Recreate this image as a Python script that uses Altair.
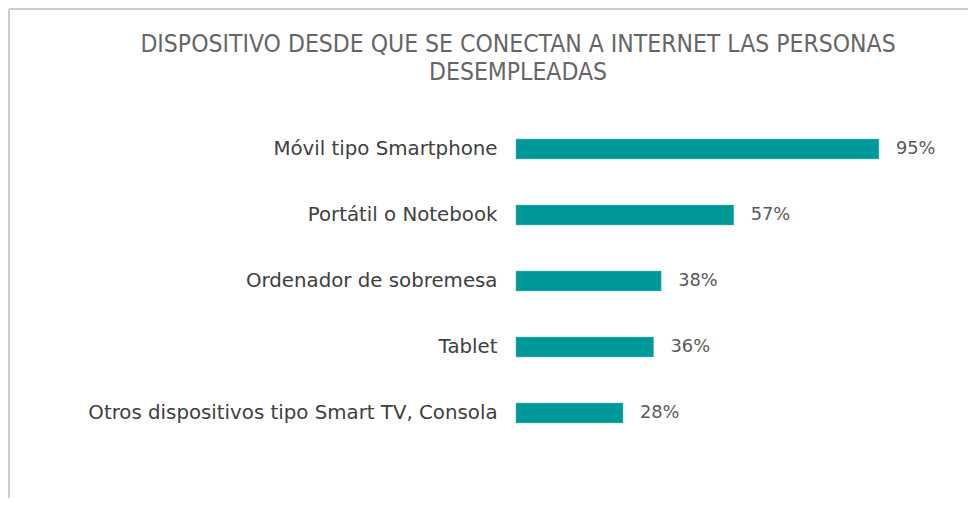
import altair as alt
import pandas as pd

categories = [
    "Móvil tipo Smartphone",
    "Portátil o Notebook",
    "Ordenador de sobremesa",
    "Tablet",
    "Otros dispositivos tipo Smart TV, Consola",
]
values = [95, 57, 38, 36, 28]
value_labels = ["95%", "57%", "38%", "36%", "28%"]

df = pd.DataFrame({"cat": categories, "val": values, "lab": value_labels})

FONT = "DejaVu Sans"

y_enc = alt.Y("cat:N", sort=categories, title=None,
              scale=alt.Scale(paddingInner=0.7, paddingOuter=0.35),
              axis=alt.Axis(domain=False, ticks=False, labelPadding=19,
                            labelFontSize=19.8, labelColor="#404040", labelFont=FONT,
                            labelLimit=600))
x_enc = alt.X("val:Q", scale=alt.Scale(domain=[0, 100]), axis=None, title=None)

bars = alt.Chart(df).mark_bar(color="#009999", stroke="#5fb5b5", strokeWidth=0.5).encode(
    x=x_enc, y=y_enc)

text = alt.Chart(df).mark_text(align="left", dx=17, fontSize=17.8, color="#595959",
                               font=FONT, baseline="middle").encode(
    x="val:Q", y=alt.Y("cat:N", sort=categories), text="lab:N")

frame_top = alt.Chart(df).mark_rule(color="#c9ccd3", strokeWidth=1.5).encode(
    x=alt.value(-507), x2=alt.value(500), y=alt.value(-107))
frame_left = alt.Chart(df).mark_rule(color="#c9ccd3", strokeWidth=1.5).encode(
    x=alt.value(-507), y=alt.value(-107), y2=alt.value(500))

chart = alt.layer(frame_top, frame_left, bars, text).properties(
    width=382, height=330,
    autosize=alt.AutoSizeParams(type="none"),
    padding={"left": 508, "top": 108, "right": 70, "bottom": 52},
    title=alt.TitleParams(
        text=["DISPOSITIVO DESDE QUE SE CONECTAN A INTERNET LAS PERSONAS", "DESEMPLEADAS"],
        anchor="middle", dx=-189, dy=77, fontSize=24.5, font="DejaVu Sans Condensed",
        fontWeight=300, color="#666666", lineHeight=28, offset=0),
).configure_view(stroke=None)

chart.save("out.html", embed_options={"renderer": "svg", "actions": False})
